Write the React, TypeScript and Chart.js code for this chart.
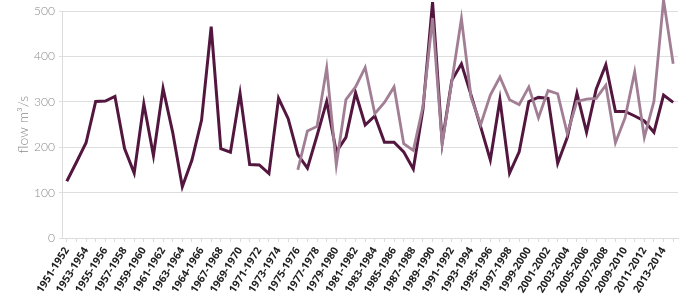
import React, { useEffect, useRef } from "react";
import { Chart, registerables } from "chart.js";

Chart.register(...registerables);

const categories: string[] = [
  "1951-1952", "1952-1953", "1953-1954", "1954-1955", "1955-1956", "1956-1957", "1957-1958", "1958-1959",
  "1959-1960", "1960-1961", "1961-1962", "1962-1963", "1963-1964", "1964-1965", "1964-1966", "1966-1967",
  "1967-1968", "1968-1969", "1969-1970", "1970-1971", "1971-1972", "1972-1973", "1973-1974", "1974-1975",
  "1975-1976", "1976-1977", "1977-1978", "1978-1979", "1979-1980", "1980-1981", "1981-1982", "1982-1983",
  "1983-1984", "1984-1985", "1985-1986", "1986-1987", "1987-1988", "1988-1989", "1989-1990", "1990-1991",
  "1991-1992", "1992-1993", "1993-1994", "1994-1995", "1995-1996", "1996-1997", "1997-1998", "1998-1999",
  "1999-2000", "2000-2001", "2001-2002", "2002-2003", "2003-2004", "2004-2005", "2005-2006", "2006-2007",
  "2007-2008", "2008-2009", "2009-2010", "2010-2011", "2011-2012", "2012-2013", "2013-2014", "2014-2015",
];

const darkSeries: (number | null)[] = [
  125, 167, 210, 301, 302, 312, 197, 143, 296, 182, 330, 233, 113, 172, 260, 466,
  197, 189, 319, 162, 161, 142, 308, 263, 184, 154, 226, 301, 190, 222, 320, 249,
  269, 211, 211, 190, 152, 283, 520, 211, 348, 384, 315, 245, 172, 305, 143, 190,
  301, 310, 308, 165, 222, 319, 233, 328, 382, 279, 279, 269, 258, 233, 315, 299,
];

const lightSeries: (number | null)[] = [
  null, null, null, null, null, null, null, null, null, null, null, null, null, null, null, null,
  null, null, null, null, null, null, null, null, 150, 236, 246, 375, 161, 305, 333, 376,
  274, 299, 333, 208, 193, 290, 485, 207, 345, 484, 310, 250, 315, 355, 305, 294,
  333, 265, 325, 318, 230, 301, 306, 308, 337, 210, 265, 366, 222, 301, 525, 384,
];

const yTicks: number[] = [0, 100, 200, 300, 400, 500];

export default function App() {
  const ref = useRef<HTMLCanvasElement | null>(null);

  useEffect(() => {
    document.body.style.margin = "0";
    const canvas = ref.current;
    if (!canvas) return;
    const chart = new Chart(canvas, {
      type: "line",
      data: {
        labels: categories,
        datasets: [
          {
            label: "light",
            data: lightSeries,
            borderColor: "#a17e94",
            backgroundColor: "#a17e94",
            borderWidth: 2.8,
            pointRadius: 0,
            tension: 0,
            clip: false as any,
            spanGaps: false,
          },
          {
            label: "dark",
            data: darkSeries,
            borderColor: "#53173f",
            backgroundColor: "#53173f",
            borderWidth: 3,
            pointRadius: 0,
            tension: 0,
            clip: false as any,
          },
        ],
      },
      options: {
        animation: false,
        responsive: false,
        maintainAspectRatio: false,
        layout: { padding: { top: 6, right: 22, left: 0, bottom: 0 } },
        plugins: {
          legend: { display: false },
          tooltip: { enabled: false },
        },
        scales: {
          x: {
            type: "category",
            offset: true,
            grid: {
              drawOnChartArea: false,
              drawTicks: true,
              tickLength: 4,
              color: "#dcdcdc",
            },
            border: { color: "#dcdcdc" },
            ticks: {
              autoSkip: false,
              minRotation: 58,
              maxRotation: 58,
              padding: 3,
              color: "#1e1e1e",
              font: { family: "'Open Sans', sans-serif", size: 10.5, weight: "bold" },
              callback: (_v: any, i: number) => (i % 2 === 0 ? categories[i] : ""),
            },
            afterFit: (s: any) => {
              s.height = 59;
            },
          },
          y: {
            min: 0,
            max: 500,
            afterBuildTicks: (s: any) => {
              s.ticks = yTicks.map((v) => ({ value: v }));
            },
            grid: {
              color: "#dedede",
              lineWidth: 1,
              drawTicks: true,
              tickLength: 3,
            },
            border: { color: "#dcdcdc" },
            ticks: {
              padding: 4,
              color: "#8a8a8a",
              font: { family: "Lato, sans-serif", size: 12, weight: "300" },
            },
            title: {
              display: true,
              text: "flow m³/s",
              color: "#8a8a8a",
              font: { family: "Lato, sans-serif", size: 14, weight: "300" },
              padding: { top: 15, bottom: 0 },
            },
            afterFit: (s: any) => {
              s.width = 62;
            },
          },
        },
      },
    });
    return () => chart.destroy();
  }, []);

  return (
    <div style={{ position: "fixed", left: 0, top: 0, width: 700, height: 297, background: "#fff" }}>
      <canvas ref={ref} width={700} height={297} style={{ width: 700, height: 297, display: "block" }} />
    </div>
  );
}
